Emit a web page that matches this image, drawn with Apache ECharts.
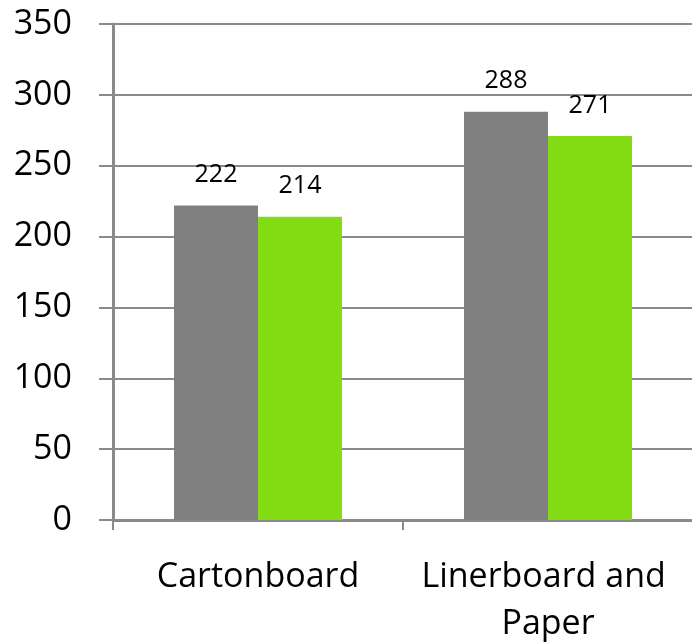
<!DOCTYPE html>
<html>
<head>
<meta charset="utf-8">
<script src="https://cdn.jsdelivr.net/npm/echarts@6/dist/echarts.min.js"></script>
<style>
  html, body { margin: 0; padding: 0; background: #fff; }
  #chart { width: 692px; height: 644px; }
</style>
</head>
<body>
<div id="chart"></div>
<script>
// Categories and the two series shown side by side
const categories = ['Cartonboard', 'Linerboard and Paper'];
const series1Values = [222, 288];
const series2Values = [214, 271];

// Value axis range
const yMin = 0;
const yMax = 350;
const yStep = 50;

const FONT = '"Open Sans", "Noto Sans", sans-serif';
const AXIS_COLOR = '#8a8a8a';

const chart = echarts.init(document.getElementById('chart'), null, { renderer: 'canvas' });

const labelStyle = {
  show: true,
  position: 'top',
  distance: 18,
  color: '#000',
  fontFamily: FONT,
  fontSize: 25
};

chart.setOption({
  animation: false,
  backgroundColor: '#fff',
  grid: {
    left: 113, right: -1, top: 24, bottom: 124,
    containLabel: false,
    outerBoundsMode: 'none'
  },
  xAxis: {
    type: 'category',
    data: categories,
    axisLine: { show: true, lineStyle: { color: AXIS_COLOR, width: 3 } },
    axisTick: { show: true, length: 10, alignWithLabel: false, lineStyle: { color: AXIS_COLOR, width: 2 } },
    axisLabel: {
      interval: 0,
      color: '#000',
      fontFamily: FONT,
      fontSize: 34,
      lineHeight: 47,
      margin: 34,
      width: 280,
      overflow: 'break'
    },
    splitLine: { show: false }
  },
  yAxis: {
    type: 'value',
    min: yMin,
    max: yMax,
    interval: yStep,
    axisLine: { show: true, lineStyle: { color: AXIS_COLOR, width: 3 } },
    axisTick: { show: true, length: 14, lineStyle: { color: AXIS_COLOR, width: 2 } },
    axisLabel: {
      color: '#000',
      fontFamily: FONT,
      fontSize: 34,
      margin: 41
    },
    splitLine: { show: true, lineStyle: { color: AXIS_COLOR, width: 2 } }
  },
  series: [
    {
      name: 'Series 1',
      type: 'bar',
      data: series1Values,
      barWidth: 84,
      barGap: '0%',
      itemStyle: { color: '#808080' },
      label: labelStyle
    },
    {
      name: 'Series 2',
      type: 'bar',
      data: series2Values,
      barWidth: 84,
      barGap: '0%',
      itemStyle: { color: '#84dc14' },
      label: labelStyle
    }
  ]
});
</script>
</body>
</html>
